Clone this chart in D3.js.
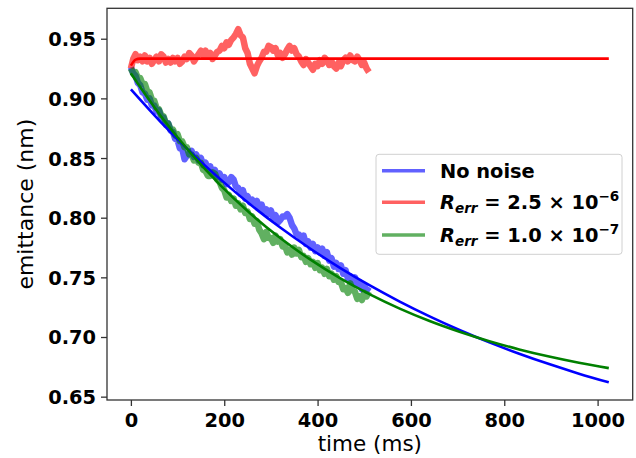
<!DOCTYPE html>
<html>
<head>
<meta charset="utf-8">
<script src="https://cdn.jsdelivr.net/npm/d3@7"></script>
<style>
  body { margin: 0; background: #fff; }
  svg text { font-family: "DejaVu Sans", sans-serif; }
</style>
</head>
<body>
<div id="chart"></div>
<script>
// sample times of the noisy traces (ms)
var noisyTime = [
  0, 5, 10, 15, 20, 25, 30, 35, 40, 45,
  50, 55, 60, 65, 70, 75, 80, 85, 90, 95,
  100, 105, 110, 115, 120, 125, 130, 135, 140, 145,
  150, 155, 160, 165, 170, 175, 180, 185, 190, 195,
  200, 205, 210, 215, 220, 225, 230, 235, 240, 245,
  250, 255, 260, 265, 270, 275, 280, 285, 290, 295,
  300, 305, 310, 315, 320, 325, 330, 335, 340, 345,
  350, 355, 360, 365, 370, 375, 380, 385, 390, 395,
  400, 405, 410, 415, 420, 425, 430, 435, 440, 445,
  450, 455, 460, 465, 470, 475, 480, 485, 490, 495,
  500, 505, 510];

var blueNoisy = [
  0.926, 0.921, 0.919, 0.913, 0.911, 0.905, 0.904, 0.899, 0.900, 0.894,
  0.894, 0.889, 0.890, 0.884, 0.884, 0.878, 0.879, 0.873, 0.872, 0.866,
  0.865, 0.858, 0.858, 0.849, 0.852, 0.854, 0.856, 0.851, 0.853, 0.848,
  0.850, 0.844, 0.846, 0.841, 0.843, 0.837, 0.840, 0.834, 0.837, 0.832,
  0.834, 0.828, 0.830, 0.834, 0.832, 0.826, 0.825, 0.820, 0.823, 0.816,
  0.818, 0.813, 0.815, 0.811, 0.814, 0.808, 0.811, 0.805, 0.807, 0.803,
  0.806, 0.800, 0.802, 0.796, 0.798, 0.801, 0.801, 0.803, 0.800, 0.794,
  0.791, 0.786, 0.786, 0.782, 0.785, 0.778, 0.780, 0.775, 0.778, 0.772,
  0.775, 0.771, 0.774, 0.768, 0.771, 0.764, 0.766, 0.759, 0.762, 0.757,
  0.760, 0.753, 0.756, 0.749, 0.751, 0.746, 0.750, 0.744, 0.746, 0.740,
  0.743, 0.739, 0.742];

var redNoisy = [
  0.925, 0.933, 0.937, 0.932, 0.935, 0.931, 0.936, 0.931, 0.934, 0.929,
  0.932, 0.935, 0.931, 0.937, 0.935, 0.930, 0.933, 0.930, 0.934, 0.931,
  0.934, 0.929, 0.931, 0.935, 0.933, 0.938, 0.936, 0.931, 0.934, 0.937,
  0.940, 0.936, 0.940, 0.935, 0.938, 0.933, 0.936, 0.939, 0.940, 0.944,
  0.942, 0.947, 0.945, 0.949, 0.951, 0.954, 0.958, 0.953, 0.951, 0.942,
  0.938, 0.929, 0.925, 0.921, 0.927, 0.931, 0.934, 0.939, 0.939, 0.944,
  0.943, 0.940, 0.942, 0.936, 0.938, 0.934, 0.937, 0.941, 0.944, 0.940,
  0.942, 0.937, 0.935, 0.931, 0.928, 0.933, 0.930, 0.927, 0.924, 0.929,
  0.927, 0.932, 0.929, 0.934, 0.932, 0.928, 0.931, 0.927, 0.925, 0.930,
  0.927, 0.932, 0.934, 0.931, 0.936, 0.932, 0.931, 0.935, 0.932, 0.928,
  0.930, 0.925, 0.922];

var greenNoisy = [
  0.925, 0.921, 0.922, 0.917, 0.917, 0.912, 0.912, 0.906, 0.905, 0.899,
  0.898, 0.892, 0.891, 0.886, 0.885, 0.879, 0.879, 0.874, 0.874, 0.869,
  0.870, 0.864, 0.864, 0.859, 0.859, 0.853, 0.853, 0.848, 0.850, 0.846,
  0.846, 0.840, 0.839, 0.835, 0.835, 0.838, 0.837, 0.832, 0.830, 0.825,
  0.823, 0.817, 0.819, 0.814, 0.816, 0.810, 0.812, 0.807, 0.810, 0.804,
  0.805, 0.799, 0.801, 0.795, 0.797, 0.790, 0.787, 0.782, 0.788, 0.783,
  0.783, 0.779, 0.785, 0.780, 0.782, 0.776, 0.777, 0.771, 0.773, 0.769,
  0.775, 0.770, 0.773, 0.767, 0.768, 0.763, 0.766, 0.761, 0.763, 0.758,
  0.762, 0.756, 0.758, 0.753, 0.757, 0.751, 0.753, 0.748, 0.751, 0.746,
  0.746, 0.740, 0.741, 0.737, 0.745, 0.739, 0.738, 0.732, 0.734, 0.731,
  0.737, 0.734, 0.738];

// fitted curves
var fitTime = [0, 64, 128, 192, 256, 320, 384, 448, 512, 576, 640, 704, 768, 832, 896, 960, 1024];
var blueFit = [0.9075, 0.8801, 0.8550, 0.8321, 0.8110, 0.7918, 0.7742, 0.7580, 0.7432, 0.7297, 0.7173, 0.7059,
  0.6955, 0.6860, 0.6773, 0.6693, 0.6620];
var greenFit = [0.921, 0.8853, 0.8542, 0.8271, 0.8035, 0.7829, 0.7650, 0.7493, 0.7357, 0.7238, 0.7134, 0.7044,
  0.6965, 0.6896, 0.6836, 0.6784, 0.6739];
var redFitTime = [0, 5, 10, 20, 1024];
var redFit = [0.9275, 0.9305, 0.9325, 0.9333, 0.9333];

var xTicks = [0, 200, 400, 600, 800, 1000];
var yTicks = [0.65, 0.70, 0.75, 0.80, 0.85, 0.90, 0.95];

var width = 636, height = 458;
var margin = {left: 107, top: 8.3, right: 3.3, bottom: 58};

var svg = d3.select("#chart").append("svg")
    .attr("width", width)
    .attr("height", height);

var x = d3.scaleLinear().domain([-51.2, 1075.2]).range([margin.left, width - margin.right]);
var y = d3.scaleLinear().domain([0.6472, 0.9755]).range([height - margin.bottom, margin.top]);

function series(ts, vs) {
    var n = Math.min(ts.length, vs.length);
    return ts.slice(0, n).map((t, i) => [t, vs[i]]);
}

var line = d3.line().x(d => x(d[0])).y(d => y(d[1]));
var smooth = d3.line().x(d => x(d[0])).y(d => y(d[1])).curve(d3.curveMonotoneX);

var plot = svg.append("g");

// noisy traces
function noisy(vs, color) {
    plot.append("path")
        .datum(series(noisyTime, vs))
        .attr("d", line)
        .attr("fill", "none")
        .attr("stroke", color)
        .attr("stroke-opacity", 0.62)
        .attr("stroke-width", 6.5)
        .attr("stroke-linejoin", "round");
}
noisy(blueNoisy, "#0000ff");
noisy(redNoisy, "#ff0000");
noisy(greenNoisy, "#008000");

function fit(ts, vs, color) {
    plot.append("path")
        .datum(series(ts, vs))
        .attr("d", smooth)
        .attr("fill", "none")
        .attr("stroke", color)
        .attr("stroke-width", 2.6);
}
fit(fitTime, blueFit, "#0000ff");
fit(redFitTime, redFit, "#ff0000");
fit(fitTime, greenFit, "#008000");

// axes
var xAxis = svg.append("g")
    .attr("transform", "translate(0," + (height - margin.bottom) + ")")
    .call(d3.axisBottom(x).tickValues(xTicks).tickFormat(d3.format("d")).tickSizeOuter(0).tickSize(6).tickPadding(5));
var yAxis = svg.append("g")
    .attr("transform", "translate(" + margin.left + ",0)")
    .call(d3.axisLeft(y).tickValues(yTicks).tickFormat(d3.format(".2f")).tickSizeOuter(0).tickSize(6).tickPadding(5));

[xAxis, yAxis].forEach(function (g) {
    g.select(".domain").remove();
    g.selectAll(".tick line").attr("stroke", "#333").attr("stroke-width", 1.3);
    g.selectAll(".tick text")
        .attr("fill", "#000")
        .style("font-size", "19.4px")
        .style("font-weight", "bold")
        .style("font-family", "DejaVu Sans");
});
xAxis.selectAll(".tick text").attr("dy", "0.84em");
yAxis.selectAll(".tick text").attr("dy", "0.36em");

// frame
svg.append("rect")
    .attr("x", margin.left)
    .attr("y", margin.top)
    .attr("width", width - margin.right - margin.left)
    .attr("height", height - margin.bottom - margin.top)
    .attr("fill", "none")
    .attr("stroke", "#333")
    .attr("stroke-width", 1.3);

// axis labels
svg.append("text")
    .attr("x", (margin.left + width - margin.right) / 2)
    .attr("y", 451)
    .attr("text-anchor", "middle")
    .style("font-size", "21.5px")
    .text("time (ms)");
svg.append("text")
    .attr("transform", "translate(33," + ((margin.top + height - margin.bottom) / 2) + ") rotate(-90)")
    .attr("text-anchor", "middle")
    .style("font-size", "22px")
    .text("emittance (nm)");

// legend
var legend = svg.append("g").attr("transform", "translate(376,154.3)");
legend.append("rect")
    .attr("width", 246)
    .attr("height", 100)
    .attr("rx", 3)
    .attr("fill", "#fff")
    .attr("fill-opacity", 0.8)
    .attr("stroke", "#d0d0d0")
    .attr("stroke-width", 1);

var legendItems = [
    {color: "#0000ff", value: null},
    {color: "#ff0000", value: ["2.5", "\u22126"]},
    {color: "#008000", value: ["1.0", "\u22127"]}
];
var rowY = [16.4, 48, 80.7];
legendItems.forEach(function (item, i) {
    var row = legend.append("g").attr("transform", "translate(0," + rowY[i] + ")");
    row.append("line")
        .attr("x1", 6).attr("x2", 49)
        .attr("stroke", item.color)
        .attr("stroke-opacity", 0.62)
        .attr("stroke-width", 3.5);
    var t = row.append("text")
        .attr("x", 64)
        .attr("dy", "0.36em")
        .style("font-size", "19.4px")
        .style("font-weight", "bold");
    if (!item.value) {
        t.text("No noise");
        return;
    }
    t.append("tspan").style("font-style", "italic").text("R");
    t.append("tspan").style("font-style", "italic").style("font-size", "13.6px").attr("dy", 4).text("err");
    t.append("tspan").attr("dy", -4).text(" = " + item.value[0] + " \u00d7 10");
    t.append("tspan").style("font-size", "13.6px").attr("dy", -8).text(item.value[1]);
});
</script>
</body>
</html>
